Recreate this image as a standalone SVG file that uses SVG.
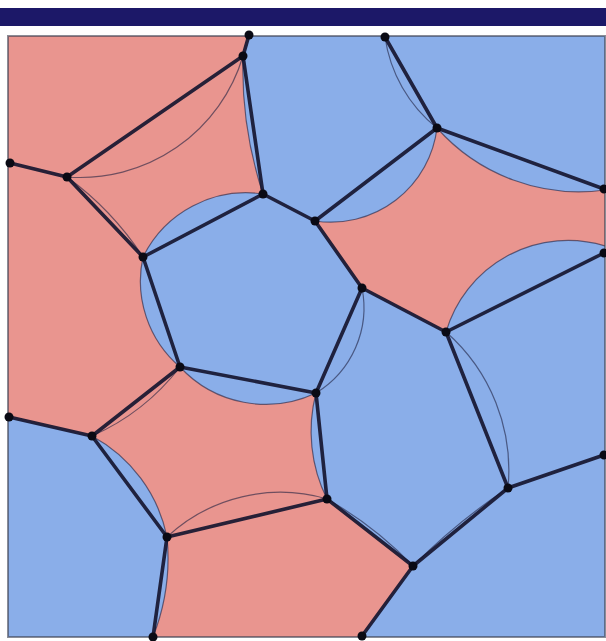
<svg xmlns="http://www.w3.org/2000/svg" width="606" height="641" viewBox="0 0 606 641">
<style>
.red{fill:#e9958f}
.blue{fill:#8aaee9}
.thin{fill:none;stroke:#1e2040;stroke-opacity:0.6;stroke-width:1.2}
.edge{fill:none;stroke:#161630;stroke-opacity:0.92;stroke-width:3.6;stroke-linecap:round}
.dot{fill:#0a0a14}
</style>
<defs>
<clipPath id="frameClip"><rect x="8" y="36" width="597" height="601"/></clipPath>
</defs>
<rect x="0" y="0" width="606" height="641" fill="#ffffff"/>
<rect x="0" y="8" width="606" height="18" fill="#1c1868"/>
<g id="regions" clip-path="url(#frameClip)">
<rect class="red" x="8" y="36" width="597" height="601"/>
<path id="cellC" class="blue" d="M249,36 L385,36 L437,128 A107,107 0 0 1 315,221 L263,194 A400,400 0 0 1 243,56 Z"/>
<path id="cellG" class="blue" d="M385,36 L605,36 L605,190 A190,190 0 0 1 437,128 Z"/>
<path id="cellK" class="blue" d="M263,194 L315,221 L362,288 L316,393 A117,117 0 0 1 180,367 A113,113 0 0 1 143,257 A115,115 0 0 1 263,194 Z"/>
<path id="cellJ" class="blue" d="M446,332 A127,127 0 0 1 605,246 L605,455 L508,488 Z"/>
<path id="cellH" class="blue" d="M362,288 L446,332 L508,488 L413,566 L327,499 A152,152 0 0 1 316,393 Z"/>
<path id="cellI" class="blue" d="M508,488 L605,455 L605,637 L362,637 L413,566 Z"/>
<path id="cellL" class="blue" d="M8,417 L92,436 A149,149 0 0 1 167,537 A215,215 0 0 1 153,637 L8,637 Z"/>
</g>
<g id="arcs" clip-path="url(#frameClip)">
<path class="thin" d="M263,194 A400,400 0 0 1 243,56"/>
<path class="thin" d="M437,128 A107,107 0 0 1 315,221"/>
<path class="thin" d="M605,190 A190,190 0 0 1 437,128"/>
<path class="thin" d="M446,332 A127,127 0 0 1 605,246"/>
<path class="thin" d="M316,393 A117,117 0 0 1 180,367 A113,113 0 0 1 143,257 A115,115 0 0 1 263,194"/>
<path class="thin" d="M327,499 A152,152 0 0 1 316,393"/>
<path class="thin" d="M92,436 A149,149 0 0 1 167,537 A215,215 0 0 1 153,637"/>
<path class="thin" d="M67,177 A170,170 0 0 0 243,56"/>
<path class="thin" d="M67,177 A305,305 0 0 1 143,257"/>
<path class="thin" d="M180,367 A227,227 0 0 1 92,436"/>
<path class="thin" d="M167,537 A166,166 0 0 1 327,499"/>
<path class="thin" d="M385,37 A142,142 0 0 0 437,128"/>
<path class="thin" d="M362,288 A100,100 0 0 1 316,393"/>
<path class="thin" d="M446,332 A184,184 0 0 1 508,488"/>
<path class="thin" d="M327,499 A373,373 0 0 1 413,566"/>
<path class="thin" d="M413,566 A600,600 0 0 1 508,488"/>
</g>
<rect x="8" y="36" width="597" height="601" fill="none" stroke="#3c4050" stroke-opacity="0.6" stroke-width="2"/>
<g id="connectors">
<line class="edge" x1="249" y1="35" x2="243" y2="56"/>
<line class="edge" x1="243" y1="56" x2="67" y2="177"/>
<line class="edge" x1="243" y1="56" x2="263" y2="194"/>
<line class="edge" x1="10" y1="163" x2="67" y2="177"/>
<line class="edge" x1="67" y1="177" x2="143" y2="257"/>
<line class="edge" x1="263" y1="194" x2="315" y2="221"/>
<line class="edge" x1="263" y1="194" x2="143" y2="257"/>
<line class="edge" x1="385" y1="37" x2="437" y2="128"/>
<line class="edge" x1="437" y1="128" x2="315" y2="221"/>
<line class="edge" x1="437" y1="128" x2="604" y2="189"/>
<line class="edge" x1="315" y1="221" x2="362" y2="288"/>
<line class="edge" x1="143" y1="257" x2="180" y2="367"/>
<line class="edge" x1="362" y1="288" x2="446" y2="332"/>
<line class="edge" x1="362" y1="288" x2="316" y2="393"/>
<line class="edge" x1="446" y1="332" x2="604" y2="253"/>
<line class="edge" x1="446" y1="332" x2="508" y2="488"/>
<line class="edge" x1="180" y1="367" x2="316" y2="393"/>
<line class="edge" x1="180" y1="367" x2="92" y2="436"/>
<line class="edge" x1="9" y1="417" x2="92" y2="436"/>
<line class="edge" x1="92" y1="436" x2="167" y2="537"/>
<line class="edge" x1="316" y1="393" x2="327" y2="499"/>
<line class="edge" x1="327" y1="499" x2="167" y2="537"/>
<line class="edge" x1="327" y1="499" x2="413" y2="566"/>
<line class="edge" x1="413" y1="566" x2="508" y2="488"/>
<line class="edge" x1="508" y1="488" x2="604" y2="455"/>
<line class="edge" x1="167" y1="537" x2="153" y2="637"/>
<line class="edge" x1="413" y1="566" x2="362" y2="636"/>
</g>
<g id="v1"><circle class="dot" cx="249" cy="35" r="4.5"/></g>
<g id="v2"><circle class="dot" cx="243" cy="56" r="4.5"/></g>
<g id="v3"><circle class="dot" cx="385" cy="37" r="4.5"/></g>
<g id="v4"><circle class="dot" cx="10" cy="163" r="4.5"/></g>
<g id="v5"><circle class="dot" cx="67" cy="177" r="4.5"/></g>
<g id="v6"><circle class="dot" cx="263" cy="194" r="4.5"/></g>
<g id="v7"><circle class="dot" cx="437" cy="128" r="4.5"/></g>
<g id="v8"><circle class="dot" cx="315" cy="221" r="4.5"/></g>
<g id="v9"><circle class="dot" cx="604" cy="189" r="4.5"/></g>
<g id="v10"><circle class="dot" cx="143" cy="257" r="4.5"/></g>
<g id="v11"><circle class="dot" cx="362" cy="288" r="4.5"/></g>
<g id="v12"><circle class="dot" cx="604" cy="253" r="4.5"/></g>
<g id="v13"><circle class="dot" cx="446" cy="332" r="4.5"/></g>
<g id="v14"><circle class="dot" cx="180" cy="367" r="4.5"/></g>
<g id="v15"><circle class="dot" cx="316" cy="393" r="4.5"/></g>
<g id="v16"><circle class="dot" cx="9" cy="417" r="4.5"/></g>
<g id="v17"><circle class="dot" cx="92" cy="436" r="4.5"/></g>
<g id="v18"><circle class="dot" cx="604" cy="455" r="4.5"/></g>
<g id="v19"><circle class="dot" cx="508" cy="488" r="4.5"/></g>
<g id="v20"><circle class="dot" cx="327" cy="499" r="4.5"/></g>
<g id="v21"><circle class="dot" cx="167" cy="537" r="4.5"/></g>
<g id="v22"><circle class="dot" cx="413" cy="566" r="4.5"/></g>
<g id="v23"><circle class="dot" cx="153" cy="637" r="4.5"/></g>
<g id="v24"><circle class="dot" cx="362" cy="636" r="4.5"/></g>
</svg>
